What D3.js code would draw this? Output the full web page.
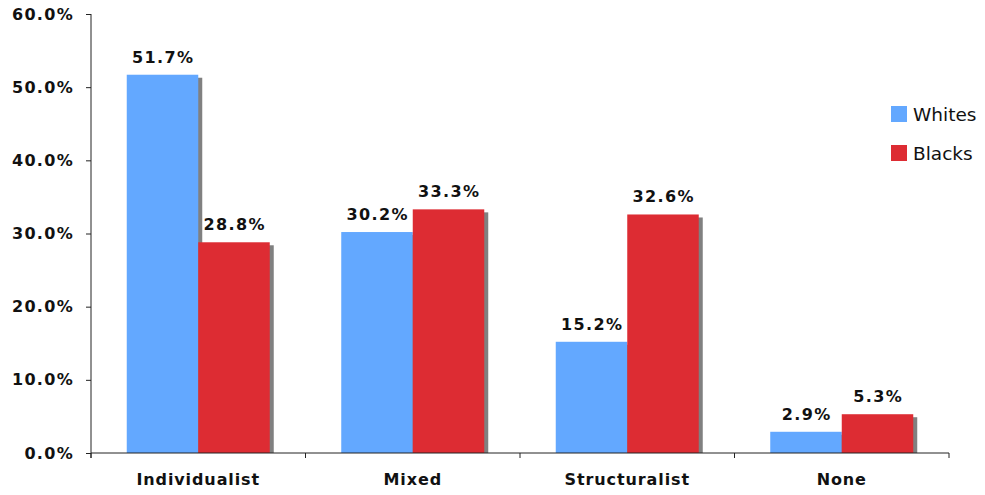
<!DOCTYPE html>
<html><head><meta charset="utf-8">
<script src="https://cdn.jsdelivr.net/npm/d3@7/dist/d3.min.js"></script>
<style>body{margin:0;background:#fff}svg{display:block}</style>
</head><body>
<svg id="c" width="985" height="495"></svg>
<script>
const categories = ["Individualist", "Mixed", "Structuralist", "None"];
const seriesNames = ["Whites", "Blacks"];
const whites = [51.7, 30.2, 15.2, 2.9];
const blacks = [28.8, 33.3, 32.6, 5.3];
const yTicks = [0, 10, 20, 30, 40, 50, 60];
const colors = ["#63A8FF", "#DD2C33"];

const svg = d3.select("#c");
const x0 = 91, x1 = 949, yTop = 14, yBot = 453;
const x = d3.scaleBand().domain(categories).range([x0, x1]).paddingInner(0).paddingOuter(0);
const y = d3.scaleLinear().domain([0, 60]).range([yBot, yTop]);
const xs = d3.scaleBand().domain(seriesNames).range([x.bandwidth() / 6, x.bandwidth() * 5 / 6]);

const data = categories.map((c, i) => ({ c, vals: [whites[i], blacks[i]] }));
const font = "'DejaVu Sans', Verdana, sans-serif";

// shadows
const g = svg.append("g");
data.forEach(d => {
  d.vals.forEach((v, j) => {
    g.append("rect")
      .attr("x", x(d.c) + xs(seriesNames[j]) + 4)
      .attr("y", y(v) + 3)
      .attr("width", xs.bandwidth())
      .attr("height", yBot - y(v) - 3)
      .attr("fill", "#808080");
  });
});
data.forEach(d => {
  d.vals.forEach((v, j) => {
    g.append("rect")
      .attr("x", x(d.c) + xs(seriesNames[j]))
      .attr("y", y(v))
      .attr("width", xs.bandwidth())
      .attr("height", yBot - y(v))
      .attr("fill", colors[j]);
    g.append("text")
      .attr("x", x(d.c) + xs(seriesNames[j]) + xs.bandwidth() / 2 + 0.7)
      .attr("y", y(v) - 12)
      .attr("text-anchor", "middle")
      .attr("font-family", font).attr("font-weight", "bold")
      .attr("font-size", 16).attr("letter-spacing", 1.4)
      .attr("fill", "#111")
      .text(v.toFixed(1) + "%");
  });
});

// y axis
const ya = svg.append("g").attr("transform", `translate(${x0},0)`)
  .call(d3.axisLeft(y).tickValues(yTicks).tickSize(5).tickPadding(12).tickFormat(d => d.toFixed(1) + "%"));
ya.select(".domain").attr("d", `M0,${yTop}V${yBot + 5}`).attr("stroke", "#222");
ya.selectAll(".tick line").attr("stroke", "#222");
ya.selectAll("text").attr("font-family", font).attr("font-weight", "bold")
  .attr("font-size", 16).attr("letter-spacing", 1.3).attr("fill", "#111");

// x axis
const xa = svg.append("g").attr("transform", `translate(0,${yBot})`)
  .call(d3.axisBottom(x).tickSize(0).tickPadding(21));
xa.select(".domain").attr("d", `M${x0},0H${x1}`).attr("stroke", "#222");
xa.selectAll("text").attr("font-family", font).attr("font-weight", "bold")
  .attr("font-size", 16).attr("letter-spacing", 0.9).attr("fill", "#111");
const bounds = categories.map(c => x(c)).concat([x1]);
svg.append("g").selectAll("line").data(bounds).join("line")
  .attr("x1", d => d).attr("x2", d => d).attr("y1", yBot).attr("y2", yBot + 5)
  .attr("stroke", "#222");

// legend
const lg = svg.append("g");
seriesNames.forEach((s, i) => {
  lg.append("rect").attr("x", 891).attr("y", 106 + i * 39).attr("width", 16).attr("height", 16).attr("fill", colors[i]);
  lg.append("text").attr("x", 913).attr("y", 121 + i * 39)
    .attr("font-family", font).attr("font-size", 18.5).attr("fill", "#111").text(s);
});
</script>
</body></html>
